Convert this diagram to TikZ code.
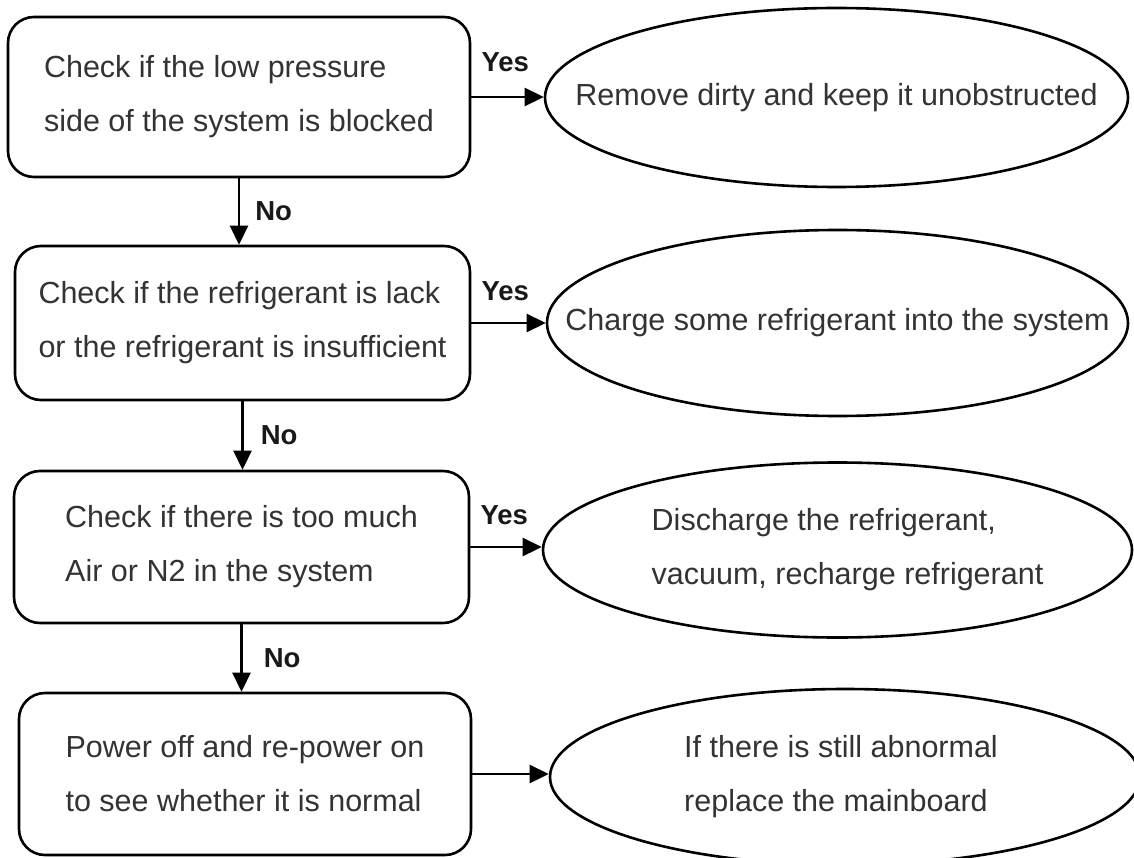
\documentclass[tikz,border=0pt]{standalone}
\usepackage{fontspec}
\setmainfont{Liberation Sans}
\usetikzlibrary{shapes.geometric,arrows.meta}
\begin{document}
\begin{tikzpicture}[x=1pt,y=-1pt,
  box/.style={draw=black, line width=2.6pt, rounded corners=26pt, inner sep=0pt,
    align=left, text=black!80, font=\fontsize{30.5}{54}\selectfont},
  oval/.style={draw=black, ellipse, line width=2.6pt, inner sep=0pt},
  txt/.style={align=left, text=black!80, font=\fontsize{30.5}{54}\selectfont, inner sep=0pt},
  lbl/.style={font=\bfseries\fontsize{27.5}{30}\selectfont, text=black!90, inner sep=0pt},
  arr/.style={line width=2.6pt, -{Triangle[length=19pt,width=18pt]}}
]
\clip (0,0) rectangle (1134,858);
\fill[white] (0,0) rectangle (1134,858);

% boxes
\node[box, minimum width=462pt, minimum height=160pt] (b1) at (239,97)
  {Check if the low pressure\\side of the system is blocked};
\node[box, minimum width=455pt, minimum height=154pt] (b2) at (242.5,323)
  {Check if the refrigerant is lack\\or the refrigerant is insufficient};
\node[box, minimum width=455pt, minimum height=152pt] (b3) at (241.5,547)
  {Check if there is too much\\Air or N2 in the system};
\node[box, minimum width=452pt, minimum height=162pt] (b4) at (245,774)
  {Power off and re-power on\\to see whether it is normal};

% ellipses
\node[oval, minimum width=583pt, minimum height=179pt] (e1) at (836.5,97.5) {};
\node[txt] (t1) at (e1) {Remove dirty and keep it unobstructed};
\node[oval, minimum width=581pt, minimum height=186pt] (e2) at (837.5,323) {};
\node[txt] (t2) at (e2) {Charge some refrigerant into the system};
\node[oval, minimum width=589pt, minimum height=175pt] (e3) at (837.5,550) {};
\node[txt] (t3) at ([xshift=10pt]e3.center) {Discharge the refrigerant,\\vacuum, recharge refrigerant};
\node[oval, minimum width=590pt, minimum height=176pt] (e4) at (845,777) {};
\node[txt] (t4) at ([xshift=-4pt]e4.center) {If there is still abnormal\\replace the mainboard};

% yes arrows
\draw[arr] (b1.east) -- (b1.east -| e1.west);
\draw[arr] (b2.east) -- (b2.east -| e2.west);
\draw[arr] (b3.east) -- (b3.east -| e3.west);
\draw[arr] (b4.east) -- (b4.east -| e4.west);
\path (b1.east) ++(10,-35) node[lbl, anchor=west] (y1) {Yes};
\path (b2.east) ++(10,-32) node[lbl, anchor=west] (y2) {Yes};
\path (b3.east) ++(10,-32) node[lbl, anchor=west] (y3) {Yes};

% no arrows
\draw[arr] (b1.south) -- (b1.south |- b2.north) node[midway, lbl, anchor=west, xshift=15pt] (n1) {No};
\draw[arr] (b2.south) -- (b2.south |- b3.north) node[midway, lbl, anchor=west, xshift=17pt] (n2) {No};
\draw[arr] (b3.south) -- (b3.south |- b4.north) node[midway, lbl, anchor=west, xshift=21pt] (n3) {No};
\end{tikzpicture}
\end{document}
